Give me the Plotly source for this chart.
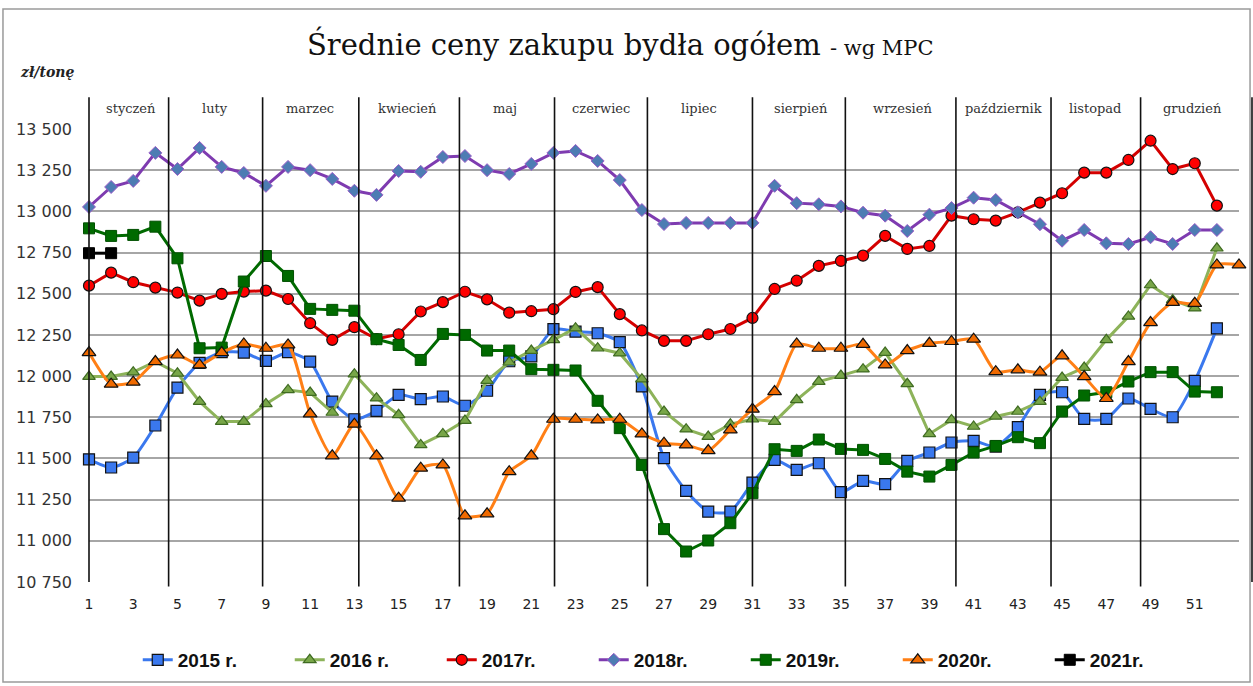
import plotly.graph_objects as go

weeks52 = list(range(1, 53))
weeks53 = list(range(1, 54))

y2015 = [11495, 11445, 11505, 11700, 11930, 12080, 12145, 12143, 12092, 12145,
         12088, 11845, 11738, 11789, 11886, 11860, 11876, 11820, 11911, 12090,
         12120, 12285, 12270, 12260, 12206, 11937, 11502, 11303, 11177, 11177,
         11353, 11491, 11431, 11471, 11295, 11364, 11344, 11485, 11536, 11597,
         11607, 11572, 11690, 11886, 11902, 11740, 11740, 11864, 11801, 11750,
         11971, 12290]
y2016 = [11997, 11997, 12024, 12088, 12017, 11845, 11724, 11724, 11831, 11916,
         11900, 11779, 12012, 11866, 11765, 11582, 11649, 11730, 11973, 12084,
         12155, 12220, 12291, 12169, 12139, 11981, 11785, 11678, 11633, 11708,
         11738, 11724, 11856, 11967, 12003, 12042, 12143, 11953, 11649, 11734,
         11694, 11755, 11785, 11845, 11991, 12052, 12220, 12362, 12553, 12462,
         12412, 12776]
y2017 = [12549, 12628, 12570, 12537, 12507, 12458, 12499, 12513, 12519, 12468,
         12321, 12220, 12297, 12225, 12254, 12392, 12449, 12512, 12466, 12385,
         12394, 12406, 12511, 12540, 12376, 12277, 12214, 12214, 12254, 12286,
         12353, 12529, 12579, 12669, 12699, 12731, 12851, 12772, 12790, 12974,
         12952, 12944, 12994, 13053, 13110, 13235, 13235, 13312, 13429, 13257,
         13292, 13035]
y2018 = [13027, 13148, 13185, 13355, 13257, 13385, 13270, 13233, 13155, 13270,
         13250, 13197, 13125, 13100, 13245, 13240, 13330, 13336, 13250, 13227,
         13288, 13355, 13367, 13306, 13190, 13008, 12923, 12930, 12930, 12930,
         12930, 13155, 13050, 13043, 13030, 12992, 12974, 12881, 12980, 13020,
         13083, 13069, 12994, 12922, 12822, 12887, 12806, 12802, 12843, 12802,
         12887, 12887]
y2019 = [12897, 12851, 12857, 12907, 12715, 12169, 12173, 12574, 12729, 12608,
         12408, 12402, 12397, 12224, 12189, 12098, 12256, 12250, 12155, 12155,
         12042, 12038, 12034, 11850, 11684, 11461, 11071, 10935, 11002, 11107,
         11289, 11556, 11546, 11615, 11558, 11552, 11497, 11420, 11390, 11461,
         11536, 11576, 11629, 11593, 11785, 11882, 11902, 11967, 12024, 12024,
         11906, 11902]
y2020 = [12143, 11951, 11963, 12088, 12128, 12068, 12143, 12195, 12169, 12189,
         11771, 11516, 11708, 11516, 11259, 11441, 11461, 11152, 11164, 11420,
         11516, 11738, 11738, 11734, 11738, 11649, 11593, 11582, 11548, 11673,
         11799, 11906, 12195, 12169, 12169, 12193, 12068, 12155, 12199, 12210,
         12224, 12027, 12038, 12024, 12123, 11997, 11864, 12088, 12325, 12448,
         12442, 12675, 12675]
y2021 = [12746, 12746]

series_names = ["2015 r.", "2016 r.", "2017r.", "2018r.", "2019r.", "2020r.", "2021r."]

months = ["styczeń", "luty", "marzec", "kwiecień", "maj", "czerwiec", "lipiec",
          "sierpień", "wrzesień", "październik", "listopad", "grudzień"]
month_label_weeks = [2.9, 6.7, 11.0, 15.4, 19.8, 24.15, 28.6, 33.2, 37.8, 42.35, 46.5, 50.9]
month_bounds = [4.6, 8.85, 13.2, 17.75, 22.05, 26.25, 31.0, 35.2, 40.2, 44.5, 48.55]

y_ticks = [10750, 11000, 11250, 11500, 11750, 12000, 12250, 12500, 12750, 13000, 13250, 13500]
x_ticks = list(range(1, 53, 2))

fig = go.Figure()

styles = [
    (weeks52, y2015, "#3a78ee", dict(symbol="square", size=11, color="#3a78ee", line=dict(color="#111", width=1.2)), "spline"),
    (weeks52, y2016, "#8db35a", dict(symbol="triangle-up", size=11, color="#78a648", line=dict(color="#3f6b22", width=1.2)), "linear"),
    (weeks52, y2017, "#d40000", dict(symbol="circle", size=11, color="#ff0000", line=dict(color="#111", width=1.2)), "linear"),
    (weeks52, y2018, "#7e3bb0", dict(symbol="diamond", size=10, color="#4d7cb3", line=dict(color="#9a5cc8", width=1)), "linear"),
    (weeks52, y2019, "#006a00", dict(symbol="square", size=11, color="#006a00", line=dict(color="#005000", width=1)), "linear"),
    (weeks53, y2020, "#ff7f15", dict(symbol="triangle-up", size=12, color="#f06a00", line=dict(color="#111", width=1.2)), "spline"),
    ([1, 2], y2021, "#000000", dict(symbol="square", size=11, color="#000000", line=dict(color="#000", width=1)), "linear"),
]

for name, (xs, ys, lc, mk, shape) in zip(series_names, styles):
    fig.add_trace(go.Scatter(
        x=xs, y=ys, name=name, mode="lines+markers",
        line=dict(color=lc, width=3, shape=shape, smoothing=0.6),
        marker=mk, cliponaxis=False,
    ))

shapes = []
shapes.append(dict(type="line", xref="paper", yref="paper", x0=0, x1=0, y0=0, y1=1.07,
                   line=dict(color="#111", width=1.6)))
for b in month_bounds:
    shapes.append(dict(type="line", xref="x", yref="paper", x0=b, x1=b, y0=-0.01, y1=1.07,
                       line=dict(color="#111", width=1.6)))
shapes.append(dict(type="line", xref="paper", yref="paper", x0=1.0113, x1=1.0113, y0=0, y1=1.07,
                   line=dict(color="#111", width=1.6)))
shapes.append(dict(type="rect", xref="paper", yref="paper", x0=-0.0748, x1=1.0096, y0=-0.2208, y1=1.265,
                   line=dict(color="#9a9a9a", width=1.5)))

annotations = []
for m, w in zip(months, month_label_weeks):
    annotations.append(dict(x=w, y=1.046, xref="x", yref="paper", text=m, showarrow=False,
                            yanchor="middle",
                            font=dict(family="DejaVu Serif", size=13, color="#333")))
annotations.append(dict(x=-0.062, y=1.126, xref="paper", yref="paper", text="<b><i>zł/tonę</i></b>",
                        showarrow=False, xanchor="left", yanchor="middle",
                        font=dict(family="DejaVu Serif", size=14, color="#222")))

fig.update_layout(
    width=1253, height=686,
    margin=dict(l=89, r=14, t=129, b=104, autoexpand=False),
    paper_bgcolor="white", plot_bgcolor="white",
    separators=". ",
    title=dict(
        text="Średnie ceny zakupu bydła ogółem <span style='font-size:21px'>- wg MPC</span>",
        x=0.495, xanchor="center", y=0.934, yanchor="middle", yref="container",
        font=dict(family="DejaVu Serif", size=29, color="#111"),
    ),
    xaxis=dict(range=[1, 53], tickvals=x_ticks, ticktext=[str(t) for t in x_ticks],
               showgrid=False, zeroline=False, showline=False, ticks="",
               ticklabelstandoff=12, automargin=False,
               tickfont=dict(family="DejaVu Sans", size=14, color="#222")),
    yaxis=dict(range=[10750, 13500], tickvals=y_ticks, tickformat=",d",
               showgrid=True, gridcolor="#a6a6a6", gridwidth=2, zeroline=False, showline=False,
               ticks="", ticklabelstandoff=16, automargin=False,
               tickfont=dict(family="DejaVu Sans", size=16, color="#333")),
    legend=dict(orientation="h", x=0.505, xanchor="center", y=0.038, yref="container", yanchor="middle",
                font=dict(family="Liberation Sans Narrow, Liberation Sans", size=19, color="#111", weight="bold"),
                entrywidth=107, itemwidth=30),
    shapes=shapes,
    annotations=annotations,
    showlegend=True,
)

fig.write_html("out.html", config={"displayModeBar": False},
               post_script="document.body.style.margin='0';document.body.style.overflow='hidden';")
